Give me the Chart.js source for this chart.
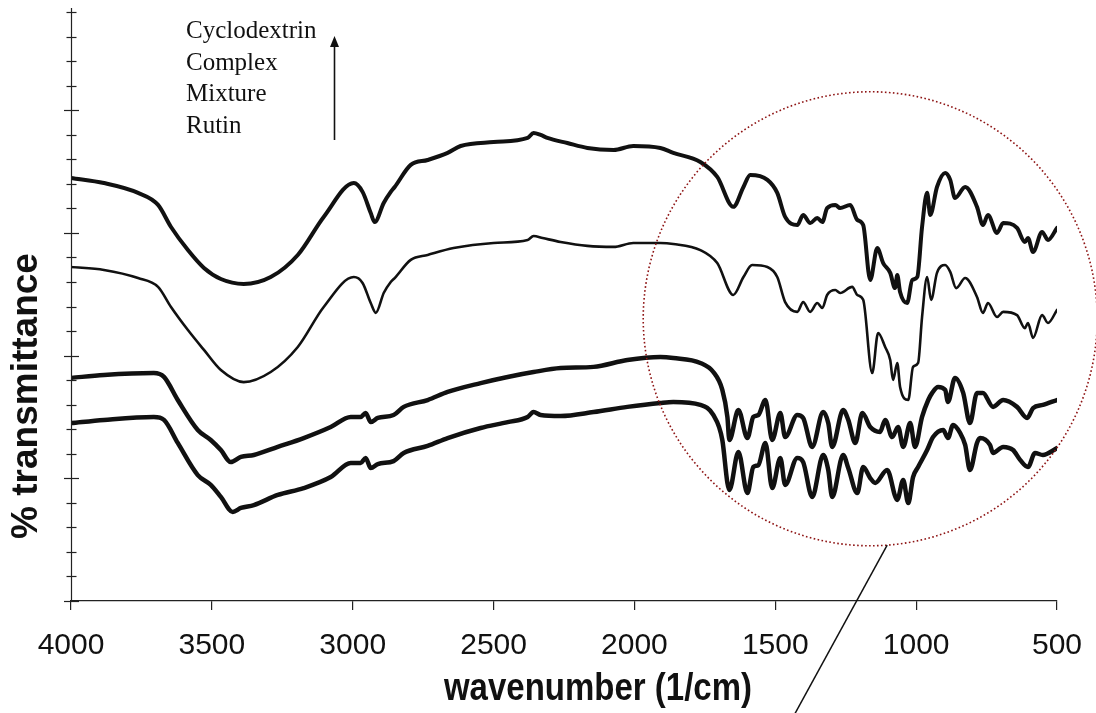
<!DOCTYPE html>
<html>
<head>
<meta charset="utf-8">
<title>FTIR spectra</title>
<script src="https://cdn.jsdelivr.net/npm/chart.js@4.4.1/dist/chart.umd.min.js"></script>
<style>
  html, body { margin: 0; padding: 0; background: #ffffff; }
  #wrap { width: 1096px; height: 713px; position: relative; }
</style>
</head>
<body>
<div id="wrap"><canvas id="chart" width="1096" height="713"></canvas></div>
<script>
// Wavenumber axis (1/cm) and its labelled ticks
const xTicks = [4000, 3500, 3000, 2500, 2000, 1500, 1000, 500];
// Transmittance axis, arbitrary offset units (unlabelled ticks every unit)
const yMin = 0;
const yMax = 24;

// Stack order, top to bottom
const stackLabels = ['Cyclodextrin', 'Complex', 'Mixture', 'Rutin'];

// Cyclodextrin
const cdWn = [4000,3883,3762,3691,3645,3585,3528,3468,3387,3291,3195,3103,2996,2965,2936,2922,2890,2865,2851,2794,2734,2663,2617,2500,2379,2358,2333,2309,2238,2167,2074,2004,1908,1862,1766,1706,1649,1613,1589,1528,1493,1465,1422,1401,1376,1351,1333,1316,1287,1270,1234,1209,1188,1163,1138,1117,1092,1075,1067,1057,1032,1014,996,979,961,950,926,897,879,862,826,784,763,745,713,691,642,614,603,585,553,532,500];
const cdT = [17.24,17.03,16.63,16.14,15.24,14.30,13.57,13.12,12.92,13.20,14.10,15.65,17.03,16.67,15.81,15.44,16.22,16.67,16.87,17.77,17.97,18.26,18.54,18.70,18.87,19.07,18.99,18.87,18.66,18.46,18.38,18.54,18.46,18.26,17.89,17.28,16.06,16.87,17.36,17.16,16.63,15.65,15.32,15.73,15.40,15.61,15.44,16.01,16.14,16.01,16.14,15.53,15.32,13.08,14.38,13.77,13.37,12.75,13.28,12.59,12.14,13.08,13.20,15.24,16.63,15.73,16.87,17.44,17.16,16.42,16.87,16.06,15.32,15.73,15.00,15.40,15.20,14.63,14.79,14.22,15.04,14.71,15.20];

// Complex
const cxWn = [4000,3883,3762,3691,3645,3585,3528,3468,3387,3291,3195,3103,2996,2965,2936,2918,2890,2865,2851,2794,2734,2642,2500,2379,2358,2326,2262,2167,2074,2004,1908,1862,1766,1706,1649,1613,1582,1528,1493,1465,1422,1401,1376,1351,1333,1316,1287,1270,1227,1209,1188,1156,1135,1110,1092,1082,1067,1057,1028,1011,993,979,961,947,926,897,879,858,826,784,763,745,713,691,642,614,603,585,553,532,500];
const cxT = [13.61,13.49,13.16,12.80,11.98,11.04,10.23,9.41,8.92,9.33,10.35,11.98,13.20,12.96,12.14,11.74,12.55,13.00,13.16,13.90,14.10,14.38,14.59,14.71,14.87,14.79,14.63,14.47,14.43,14.59,14.59,14.55,14.30,13.77,12.47,13.20,13.69,13.61,13.20,12.18,11.78,12.18,11.78,12.14,11.94,12.47,12.67,12.55,12.80,12.47,12.27,9.29,10.92,10.35,9.82,9.01,9.70,8.72,8.19,9.54,9.70,11.57,13.20,12.27,13.37,13.69,13.41,12.75,13.16,12.39,11.74,12.14,11.57,11.78,11.65,11.12,11.33,10.72,11.65,11.33,11.86];

// Mixture
const mxWn = [4000,3883,3706,3670,3621,3550,3504,3468,3433,3397,3351,3266,3174,3078,3007,2972,2954,2936,2911,2855,2819,2734,2663,2546,2450,2358,2262,2145,2025,1908,1862,1766,1720,1688,1670,1663,1631,1599,1578,1560,1535,1511,1482,1465,1422,1401,1369,1330,1312,1298,1259,1241,1216,1191,1163,1128,1110,1085,1064,1046,1021,1004,979,957,943,922,897,887,862,833,809,784,763,727,691,642,606,585,550,500];
const mxT = [9.09,9.21,9.29,9.13,8.19,6.97,6.56,6.15,5.66,5.87,5.95,6.28,6.64,7.09,7.50,7.50,7.66,7.29,7.46,7.58,7.91,8.19,8.52,8.88,9.13,9.33,9.49,9.54,9.82,9.94,9.90,9.70,9.33,8.60,7.50,6.56,7.78,6.64,7.50,7.58,8.19,6.56,7.66,6.68,7.58,7.46,6.28,7.70,7.25,6.28,7.78,7.38,6.44,7.66,7.09,6.89,7.38,6.68,7.09,6.28,7.25,6.28,7.50,8.19,8.48,8.72,8.60,8.11,9.09,8.48,7.25,8.48,8.48,7.91,8.19,7.91,7.46,7.86,7.99,8.19];

// Rutin
const rtWn = [4000,3883,3706,3670,3621,3550,3504,3468,3426,3397,3351,3266,3174,3078,3007,2972,2954,2936,2911,2855,2819,2734,2663,2546,2450,2379,2358,2333,2262,2145,2025,1908,1862,1766,1720,1688,1670,1663,1631,1599,1578,1560,1535,1511,1482,1465,1422,1401,1369,1330,1312,1298,1259,1241,1209,1188,1163,1145,1103,1067,1046,1028,1011,993,961,940,904,887,869,844,826,809,784,773,738,727,691,656,631,603,578,550,500];
const rtT = [7.25,7.38,7.50,7.38,6.44,5.13,4.73,4.24,3.63,3.79,3.91,4.32,4.60,5.05,5.62,5.62,5.83,5.42,5.58,5.70,6.03,6.32,6.64,7.05,7.29,7.50,7.70,7.58,7.54,7.70,7.91,8.07,8.11,7.99,7.58,6.56,4.81,4.52,6.07,4.40,5.46,5.54,6.44,4.60,5.83,4.73,5.83,5.66,4.24,5.95,5.34,4.24,5.95,5.42,4.40,5.46,5.01,4.81,5.34,4.12,4.93,3.99,5.05,5.46,6.15,6.68,6.97,6.64,7.17,6.85,6.36,5.34,6.44,6.64,6.36,6.03,6.28,6.15,5.75,5.46,6.03,5.95,6.23];

// Fingerprint region highlighted by the dotted circle (centre in data units)
const focusWn = 1163;
const focusT = 11.5;

const pts = (wn, t) => wn.map((w, i) => ({ x: w, y: t[i] }));

const series = [
  { label: stackLabels[0], data: pts(cdWn, cdT), width: 4 },
  { label: stackLabels[1], data: pts(cxWn, cxT), width: 2.6 },
  { label: stackLabels[2], data: pts(mxWn, mxT), width: 4.5 },
  { label: stackLabels[3], data: pts(rtWn, rtT), width: 4.5 }
];

const INK = '#111111';
const AXIS = '#222222';

// Axis line, crossing ticks on the transmittance axis, titles and notes
const decorations = {
  id: 'decorations',
  afterDraw(chart) {
    const { ctx, chartArea: a, scales: { x, y } } = chart;
    ctx.save();

    // vertical axis with crossing ticks (long every 5 units)
    ctx.strokeStyle = AXIS;
    ctx.lineWidth = 1.2;
    const x0 = Math.round(a.left) + 0.5;
    ctx.beginPath();
    ctx.moveTo(x0, y.getPixelForValue(yMax) - 4);
    ctx.lineTo(x0, y.getPixelForValue(yMin));
    ctx.stroke();
    for (let v = yMin; v <= yMax; v++) {
      const py = Math.round(y.getPixelForValue(v)) + 0.5;
      const len = v % 5 === 0 ? 7.5 : 5;
      ctx.beginPath();
      ctx.moveTo(x0 - len, py);
      ctx.lineTo(x0 + len, py);
      ctx.stroke();
    }

    // axis titles
    ctx.fillStyle = INK;
    ctx.textAlign = 'center';
    ctx.textBaseline = 'alphabetic';
    ctx.save();
    ctx.translate(598, 700);
    ctx.scale(1, 1.18);
    ctx.font = 'bold 33px "Liberation Sans", Arial, sans-serif';
    ctx.fillText('wavenumber (1/cm)', 0, 0);
    ctx.restore();

    ctx.save();
    ctx.translate(37, 396);
    ctx.rotate(-Math.PI / 2);
    ctx.font = 'bold 37px "Liberation Sans", Arial, sans-serif';
    ctx.fillText('% transmittance', 0, 0);
    ctx.restore();

    // stacking note with arrow
    ctx.textAlign = 'left';
    ctx.font = '25px "Liberation Serif", "Times New Roman", serif';
    const baselines = [38, 70, 101, 133];
    stackLabels.forEach((s, i) => ctx.fillText(s, 186, baselines[i]));
    ctx.strokeStyle = INK;
    ctx.lineWidth = 1.6;
    ctx.beginPath();
    ctx.moveTo(334.5, 140);
    ctx.lineTo(334.5, 44);
    ctx.stroke();
    ctx.beginPath();
    ctx.moveTo(334.5, 36);
    ctx.lineTo(330, 47);
    ctx.lineTo(339, 47);
    ctx.closePath();
    ctx.fill();

    // dotted circle round the fingerprint region, with a pointer line
    const cx = x.getPixelForValue(focusWn);
    const cy = y.getPixelForValue(focusT);
    const r = 227;
    ctx.strokeStyle = '#8e1414';
    ctx.lineWidth = 1.6;
    ctx.setLineDash([1.6, 2.4]);
    ctx.beginPath();
    ctx.arc(cx, cy, r, 0, Math.PI * 2);
    ctx.stroke();
    ctx.setLineDash([]);

    const ang = Math.atan2(227, 17);
    const sx = cx + r * Math.cos(ang);
    const sy = cy + r * Math.sin(ang);
    const dx = -0.48, dy = 0.877;
    ctx.strokeStyle = INK;
    ctx.lineWidth = 1.5;
    ctx.beginPath();
    ctx.moveTo(sx, sy);
    ctx.lineTo(sx + dx * 220, sy + dy * 220);
    ctx.stroke();

    ctx.restore();
  }
};

new Chart(document.getElementById('chart'), {
  type: 'line',
  data: {
    datasets: series.map(s => ({
      label: s.label,
      data: s.data,
      borderColor: INK,
      borderWidth: s.width,
      pointRadius: 0,
      fill: false,
      cubicInterpolationMode: 'monotone',
      borderJoinStyle: 'round',
      borderCapStyle: 'round'
    }))
  },
  options: {
    responsive: false,
    animation: false,
    events: [],
    layout: { padding: { top: 12, right: 39, left: 0, bottom: 0 } },
    plugins: { legend: { display: false }, tooltip: { enabled: false }, title: { display: false } },
    scales: {
      x: {
        type: 'linear',
        reverse: true,
        min: 500,
        max: 4000,
        afterBuildTicks: s => { s.ticks = xTicks.map(v => ({ value: v })); },
        afterFit: s => { s.height = 112; s.paddingLeft = 0; s.paddingRight = 0; },
        border: { display: true, color: AXIS, width: 1.2 },
        grid: { display: true, drawOnChartArea: false, drawTicks: true, tickLength: 9, color: AXIS, lineWidth: 1.2 },
        ticks: {
          autoSkip: false,
          maxRotation: 0,
          padding: 18,
          color: INK,
          font: { family: '"Liberation Sans", Arial, sans-serif', size: 30 },
          callback: v => String(v)
        }
      },
      y: {
        type: 'linear',
        min: yMin,
        max: yMax,
        afterFit: s => { s.width = 71; },
        border: { display: false },
        grid: { display: false },
        ticks: { display: false }
      }
    }
  },
  plugins: [decorations]
});
</script>
</body>
</html>
